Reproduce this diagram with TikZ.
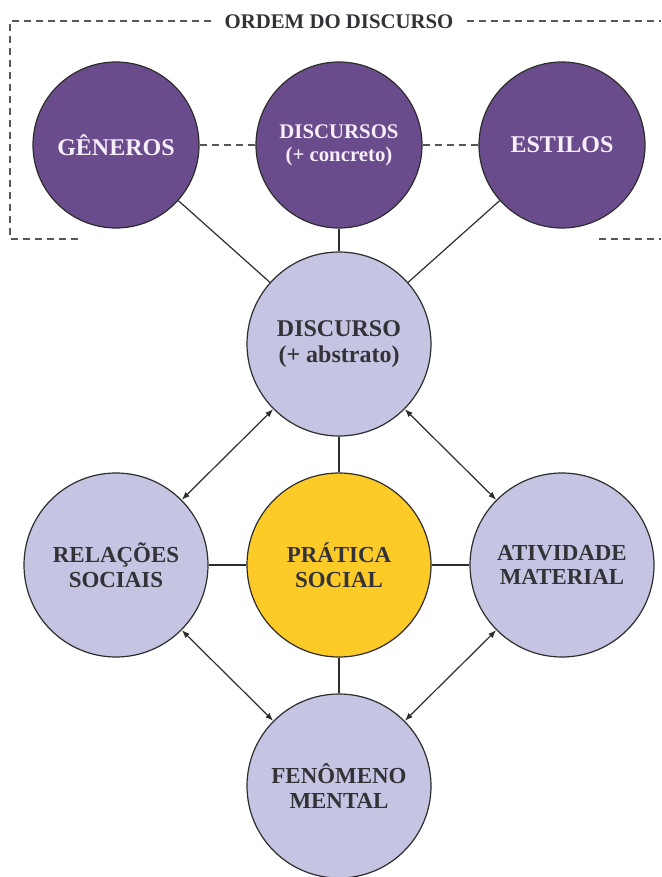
\documentclass[tikz,border=0pt]{standalone}
\usepackage{fontspec}
\setmainfont{Liberation Serif}
\usetikzlibrary{arrows.meta}
\definecolor{roxo}{RGB}{106,76,140}
\definecolor{lilas}{RGB}{197,196,226}
\definecolor{amarelo}{RGB}{253,203,40}
\definecolor{traco}{RGB}{45,45,45}
\definecolor{texto}{RGB}{50,50,55}
\definecolor{claro}{RGB}{246,239,249}
\tikzset{
  ordem/.style={circle, draw=traco, line width=0.9pt, fill=roxo, minimum size=124.5pt,
    inner sep=0pt, align=center, text=claro},
  pratica/.style={circle, draw=traco, line width=0.9pt, fill=lilas, minimum size=138pt,
    inner sep=0pt, align=center, text=texto},
  grande/.style={font=\fontsize{18}{19.5}\selectfont\bfseries},
  medio/.style={font=\fontsize{17.2}{18.5}\selectfont\bfseries},
  liga/.style={draw=traco, line width=0.9pt},
  seta/.style={{Latex[length=6pt,width=4.5pt]}-{Latex[length=6pt,width=4.5pt]}, draw=traco, line width=0.9pt},
  tracejado/.style={draw=traco!80, line width=0.9pt, dash pattern=on 5.5pt off 3.5pt},
  titulo/.style={text=texto, font=\fontsize{15.6}{17}\selectfont\bfseries, inner xsep=10pt}
}
\begin{document}
\begin{tikzpicture}[x=0.75pt, y=-0.75pt]
  \useasboundingbox (0,0) rectangle (661,877);

  % ordem do discurso
  \node[ordem, grande] (genero) at (116,145) {GÊNEROS};
  \node[ordem, medio, font=\fontsize{15.6}{17}\selectfont\bfseries] (discursos) at (339,145) {DISCURSOS\\(+ concreto)};
  \node[ordem, grande] (estilos) at (562,145) {ESTILOS};
  \draw[tracejado] (genero) -- (discursos);
  \draw[tracejado] (discursos) -- (estilos);

  % moldura tracejada com titulo
  \node[titulo] (tit) at (339,22) {ORDEM DO DISCURSO};
  \coordinate (m1) at (78,239);
  \coordinate (m2) at (10,239);
  \coordinate (m3) at (10,21);
  \coordinate (m4) at (661,21);
  \coordinate (m5) at (599,239);
  \coordinate (m6) at (661,239);
  \draw[tracejado] (m1) -- (m2) -- (m3) -- (tit.west |- m3);
  \draw[tracejado] (tit.east |- m4) -- (m4);
  \draw[tracejado] (m5) -- (m6);

  % pratica social e seus momentos
  \node[pratica, grande] (discurso) at (339,344) {DISCURSO\\(+ abstrato)};
  \node[pratica, medio] (relacoes) at (116,565) {RELAÇÕES\\SOCIAIS};
  \node[pratica, medio, fill=amarelo] (social) at (339,565) {PRÁTICA\\SOCIAL};
  \node[pratica, medio] (atividade) at (562,565) {ATIVIDADE\\MATERIAL};
  \node[pratica, medio] (fenomeno) at (339,786) {FENÔMENO\\MENTAL};

  \draw[liga] (genero) -- (discurso);
  \draw[liga] (discursos) -- (discurso);
  \draw[liga] (estilos) -- (discurso);
  \draw[liga] (discurso) -- (social);
  \draw[liga] (relacoes) -- (social);
  \draw[liga] (social) -- (atividade);
  \draw[liga] (social) -- (fenomeno);

  \draw[seta] (discurso) -- (relacoes);
  \draw[seta] (discurso) -- (atividade);
  \draw[seta] (relacoes) -- (fenomeno);
  \draw[seta] (atividade) -- (fenomeno);
\end{tikzpicture}
\end{document}
